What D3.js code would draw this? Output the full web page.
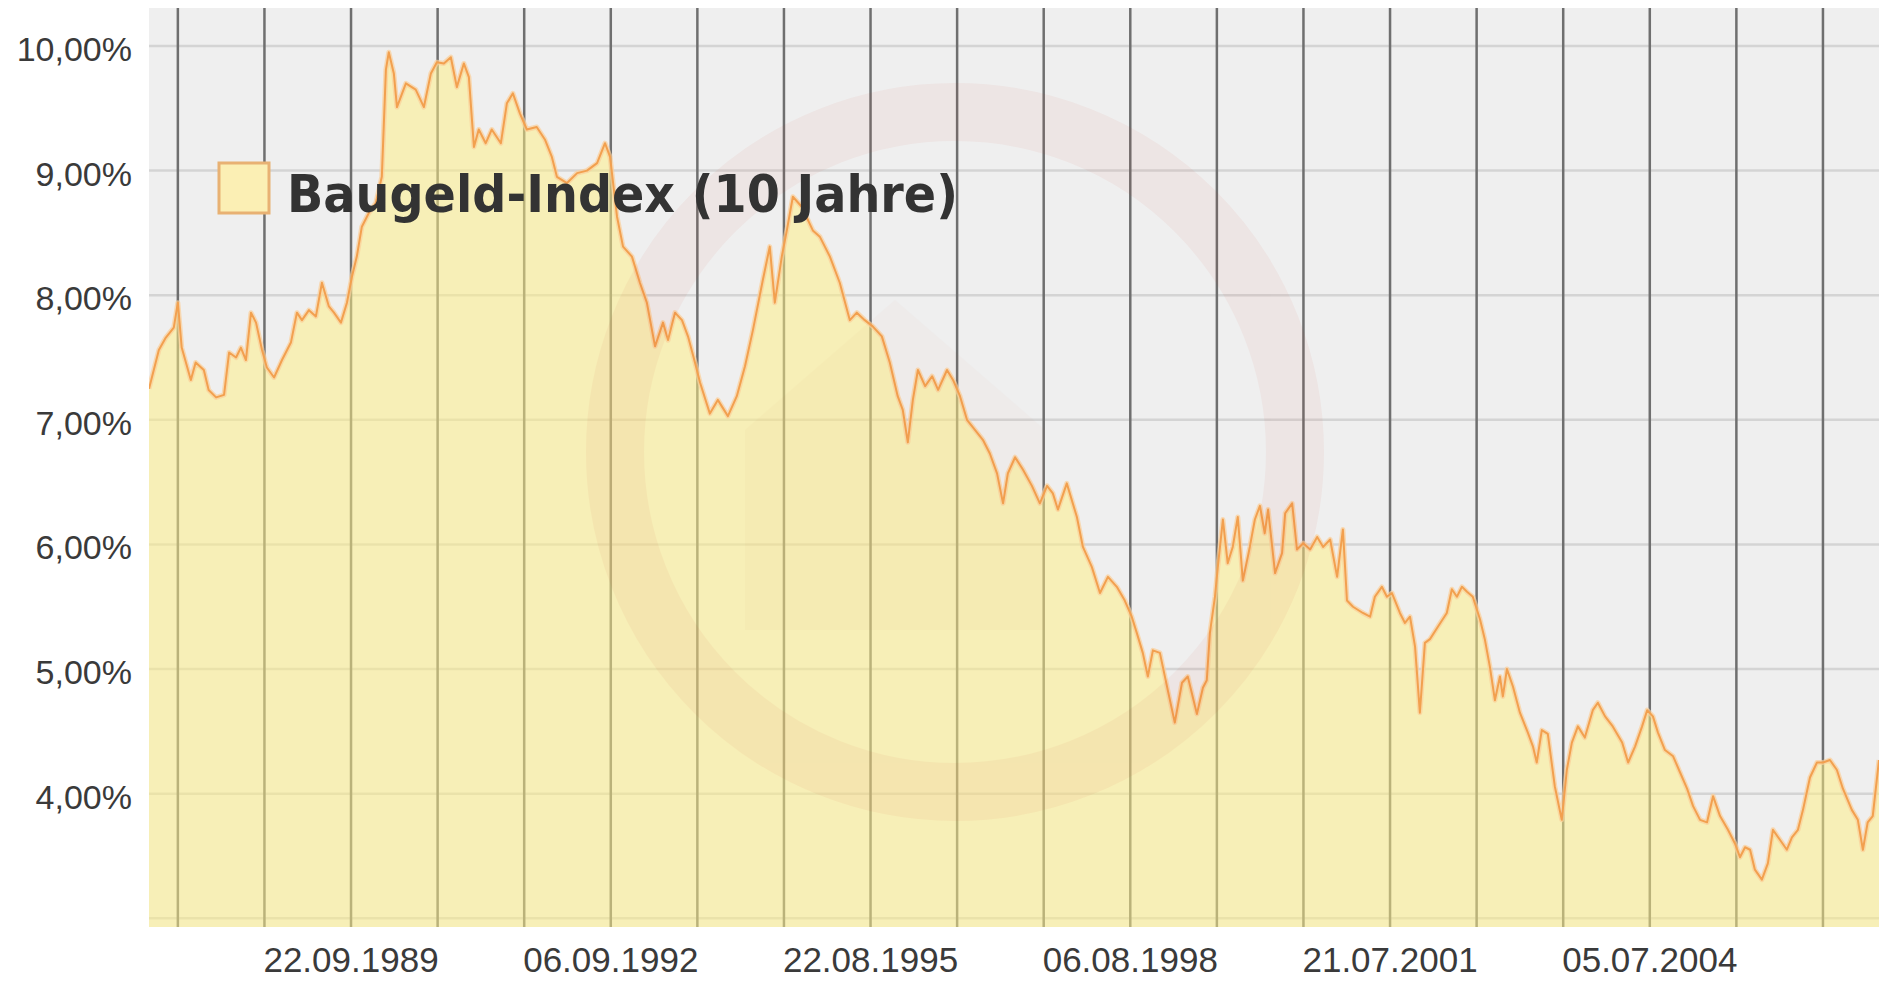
<!DOCTYPE html>
<html><head><meta charset="utf-8">
<script src="https://cdn.jsdelivr.net/npm/d3@7"></script>
<style>html,body{margin:0;padding:0;background:#fff}svg{display:block}</style>
</head><body>
<svg id="chart" width="1879" height="981"></svg>
<script>
// ---- data ----
const seriesName = "Baugeld-Index (10 Jahre)";
const dates = [
"1987-06-05","1987-07-16","1987-08-14","1987-09-16","1987-10-03","1987-10-19","1987-11-26","1987-12-16",
"1988-01-19","1988-02-08","1988-03-10","1988-04-12","1988-05-03","1988-06-01","1988-06-21","1988-07-12",
"1988-08-02","1988-08-23","1988-09-17","1988-10-07","1988-11-06","1988-12-09",
"1989-01-15","1989-02-09","1989-03-02","1989-03-31","1989-04-29","1989-05-24","1989-06-22","1989-07-13",
"1989-08-11","1989-09-05","1989-09-26","1989-10-16","1989-11-06","1989-12-05",
"1990-01-03","1990-01-28","1990-02-14","1990-02-26","1990-03-19","1990-04-01","1990-05-08","1990-06-18",
"1990-07-22","1990-08-20","1990-09-14","1990-10-13","1990-11-11","1990-12-06",
"1991-01-04","1991-01-25","1991-02-15","1991-03-07","1991-04-05","1991-04-30","1991-06-07","1991-07-02",
"1991-07-27","1991-08-25","1991-09-23","1991-11-03","1991-12-07",
"1992-01-05","1992-01-26","1992-03-08","1992-04-19","1992-05-30","1992-07-11","1992-08-13","1992-09-03",
"1992-10-02","1992-10-27","1992-12-03",
"1993-01-05","1993-02-03","1993-03-09","1993-04-11","1993-05-02","1993-05-31","1993-06-29","1993-07-24",
"1993-08-22","1993-09-12","1993-10-23","1993-11-25",
"1994-01-06","1994-02-12","1994-03-18","1994-04-20","1994-05-31","1994-06-29","1994-07-20","1994-08-18",
"1994-09-08","1994-10-03","1994-11-09","1994-12-25",
"1995-01-23","1995-03-06","1995-04-16","1995-05-28","1995-06-26","1995-07-29","1995-08-31","1995-10-08",
"1995-11-10","1995-12-13",
"1996-01-03","1996-01-24","1996-02-14","1996-03-06","1996-04-05","1996-05-04","1996-05-29","1996-07-05",
"1996-07-30","1996-08-28","1996-09-26","1996-10-29","1996-12-01","1996-12-30",
"1997-01-29","1997-02-23","1997-03-15","1997-04-14","1997-05-17","1997-06-23","1997-07-26","1997-08-25",
"1997-09-18","1997-10-09","1997-11-15","1997-12-27",
"1998-01-21","1998-02-27","1998-04-02","1998-05-05","1998-06-11","1998-07-14","1998-08-12","1998-09-02",
"1998-09-27","1998-10-18","1998-11-08","1998-12-07",
"1999-01-09","1999-02-07","1999-03-09","1999-04-02","1999-05-10","1999-06-04","1999-06-20","1999-07-03",
"1999-07-24","1999-08-05","1999-08-26","1999-09-15","1999-10-06","1999-10-27","1999-11-17","1999-12-16",
"2000-01-06","2000-01-27","2000-02-16","2000-03-01","2000-03-30","2000-04-28","2000-05-11","2000-06-09",
"2000-06-29","2000-07-25","2000-08-23","2000-09-21","2000-10-16","2000-11-14","2000-12-13",
"2001-01-06","2001-01-23","2001-02-17","2001-03-30","2001-04-29","2001-05-19","2001-06-17","2001-07-08",
"2001-07-29","2001-08-31","2001-09-21","2001-10-12","2001-11-02","2001-11-22","2001-12-13",
"2002-01-03","2002-02-05","2002-03-14","2002-04-04","2002-04-25","2002-05-16","2002-06-06","2002-06-30",
"2002-07-30","2002-08-19","2002-09-09","2002-09-30","2002-10-21","2002-11-02","2002-11-19","2002-12-14",
"2003-01-12","2003-02-14","2003-03-07","2003-03-23","2003-04-13","2003-05-08","2003-06-06","2003-07-05",
"2003-07-26","2003-08-16","2003-09-10","2003-10-09","2003-11-11","2003-12-02",
"2004-01-01","2004-02-02","2004-03-12","2004-04-06","2004-05-05","2004-06-03","2004-06-24","2004-07-18",
"2004-08-08","2004-09-06","2004-10-10","2004-11-08","2004-12-07",
"2005-01-01","2005-01-30","2005-02-28","2005-03-25","2005-04-23","2005-05-26","2005-06-24","2005-07-15",
"2005-08-05","2005-08-26","2005-09-15","2005-10-14","2005-11-08","2005-11-29","2005-12-28",
"2006-01-26","2006-02-16","2006-03-13","2006-04-03","2006-05-02","2006-05-31","2006-06-25","2006-07-24",
"2006-08-22","2006-09-16","2006-10-23","2006-11-17","2006-12-08","2006-12-28",
"2007-01-18","2007-02-13"
];
const rates = [
7.25,7.56,7.66,7.74,7.94,7.58,7.32,7.46,
7.40,7.24,7.18,7.20,7.54,7.50,7.58,7.48,
7.86,7.78,7.56,7.42,7.34,7.48,
7.62,7.86,7.80,7.88,7.83,8.10,7.91,7.86,
7.78,7.94,8.15,8.31,8.55,8.66,
8.74,8.95,9.81,9.95,9.78,9.51,9.70,9.65,
9.51,9.78,9.87,9.86,9.91,9.67,
9.86,9.75,9.19,9.33,9.22,9.33,9.22,9.54,
9.62,9.46,9.33,9.35,9.25,
9.11,8.95,8.90,8.98,9.00,9.06,9.22,9.11,
8.63,8.39,8.31,
8.10,7.94,7.59,7.78,7.64,7.86,7.80,7.67,
7.46,7.30,7.05,7.16,
7.03,7.19,7.43,7.72,8.12,8.39,7.94,8.31,
8.52,8.79,8.71,8.52,
8.47,8.31,8.10,7.80,7.86,7.80,7.75,7.67,
7.46,7.19,
7.08,6.82,7.16,7.40,7.27,7.35,7.24,7.40,
7.32,7.19,7.00,6.92,6.84,6.73,
6.57,6.33,6.57,6.70,6.60,6.47,6.33,6.47,
6.41,6.28,6.49,6.22,
5.98,5.82,5.61,5.74,5.66,5.55,5.42,5.29,
5.13,4.94,5.15,5.13,
4.83,4.57,4.89,4.94,4.64,4.85,4.91,5.29,
5.58,5.82,6.20,5.85,5.98,6.22,5.71,5.98,
6.20,6.31,6.09,6.28,5.77,5.93,6.25,6.33,
5.96,6.01,5.96,6.06,5.98,6.04,5.74,
6.12,5.55,5.50,5.45,5.42,5.58,5.66,5.58,
5.61,5.45,5.37,5.42,5.18,4.65,5.21,
5.24,5.34,5.45,5.64,5.58,5.66,5.62,5.58,
5.40,5.24,5.02,4.75,4.94,4.78,5.00,4.86,
4.65,4.49,4.38,4.25,4.51,4.48,4.06,3.79,
4.19,4.41,4.54,4.45,4.67,4.73,
4.62,4.54,4.41,4.25,4.38,4.54,4.67,4.62,
4.49,4.35,4.30,4.17,4.04,
3.90,3.79,3.77,3.98,3.82,3.71,3.60,3.49,
3.57,3.55,3.39,3.31,3.44,3.71,3.63,
3.55,3.65,3.71,3.87,4.13,4.25,4.25,4.27,
4.19,4.04,3.87,3.79,3.55,3.77,
3.82,4.27
];
// vertical grid lines (one every 360 days) and the dates that carry a label
const gridDates = [
"1987-10-03","1988-09-27","1989-09-22","1990-09-17","1991-09-12","1992-09-06","1993-09-01",
"1994-08-27","1995-08-22","1996-08-16","1997-08-11","1998-08-06","1999-08-01","2000-07-26",
"2001-07-21","2002-07-16","2003-07-11","2004-07-05","2005-06-30","2006-06-25"
];
const xTickLabels = ["22.09.1989","06.09.1992","22.08.1995","06.08.1998","21.07.2001","05.07.2004"];
const yGridValues = [3,4,5,6,7,8,9,10];
const yTickLabels = ["4,00%","5,00%","6,00%","7,00%","8,00%","9,00%","10,00%"];
const yTickValues = [4,5,6,7,8,9,10];
const xDomain = ["1987-06-05","2007-02-13"];
const yDomain = [2.93, 10.305];

// ---- layout ----
const L = 149, R = 1879, T = 8, B = 927;
const parse = d3.utcParse("%Y-%m-%d");
const parseLbl = d3.utcParse("%d.%m.%Y");
const data = dates.map((d,i)=>({date:parse(d), v:rates[i]}));

const x = d3.scaleUtc().domain(xDomain.map(parse)).range([L,R]);
const y = d3.scaleLinear().domain(yDomain).range([B,T]);

const svg = d3.select("#chart");
const defs = svg.append("defs");
defs.append("clipPath").attr("id","plotclip").append("rect")
  .attr("x",L).attr("y",T).attr("width",R-L).attr("height",B-T);

// plot background
svg.append("rect").attr("x",L).attr("y",T).attr("width",R-L).attr("height",B-T).attr("fill","#efefef");

const plot = svg.append("g").attr("clip-path","url(#plotclip)");

// horizontal grid
plot.append("g").selectAll("line").data(yGridValues).join("line")
  .attr("x1",L).attr("x2",R)
  .attr("y1",d=>y(d)).attr("y2",d=>y(d))
  .attr("stroke","#d4d4d4").attr("stroke-width",2.5);

// vertical grid
plot.append("g").selectAll("line").data(gridDates.map(parse)).join("line")
  .attr("x1",d=>x(d)).attr("x2",d=>x(d))
  .attr("y1",T).attr("y2",B)
  .attr("stroke","#6f6f6f").attr("stroke-width",2.5);

// area
const area = d3.area().x(d=>x(d.date)).y0(B).y1(d=>y(d.v)).curve(d3.curveLinear);
plot.append("path").datum(data).attr("d",area)
  .attr("fill","#ffef85").attr("fill-opacity",0.52);

// line with soft halo
const line = d3.line().x(d=>x(d.date)).y(d=>y(d.v)).curve(d3.curveLinear);
plot.append("path").datum(data).attr("d",line)
  .attr("fill","none").attr("stroke","#fbcf98").attr("stroke-width",5).attr("stroke-opacity",0.7)
  .attr("stroke-linejoin","round");
plot.append("path").datum(data).attr("d",line)
  .attr("fill","none").attr("stroke","#f2a04f").attr("stroke-width",2)
  .attr("stroke-linejoin","round");

// faint watermark ring
const wm = plot.append("g").attr("opacity",0.05);
wm.append("circle").attr("cx",955).attr("cy",452).attr("r",340)
  .attr("fill","none").attr("stroke","#d23c28").attr("stroke-width",58);
wm.append("path")
  .attr("d","M745,630 L745,430 L895,300 L1045,430 L1045,630 Z")
  .attr("fill","#d2643c").attr("opacity",0.5);

// y labels
svg.append("g").selectAll("text").data(yTickValues).join("text")
  .attr("x",132).attr("y",d=>y(d)+3)
  .attr("text-anchor","end").attr("dominant-baseline","central")
  .attr("font-family","'Liberation Sans', Arial, sans-serif").attr("font-size",34)
  .attr("fill","#3a3a3a")
  .text((d,i)=>yTickLabels[i]);

// x labels
svg.append("g").selectAll("text").data(xTickLabels).join("text")
  .attr("x",d=>x(parseLbl(d))).attr("y",972)
  .attr("text-anchor","middle")
  .attr("font-family","'Liberation Sans', Arial, sans-serif").attr("font-size",35)
  .attr("fill","#3a3a3a")
  .text(d=>d);

// legend
const lg = svg.append("g");
lg.append("rect").attr("x",219).attr("y",163).attr("width",50).attr("height",50)
  .attr("fill","#fbefb4").attr("stroke","#e8b173").attr("stroke-width",3);
lg.append("text").attr("x",287).attr("y",212)
  .attr("font-family","'DejaVu Sans', Verdana, sans-serif").attr("font-weight","bold")
  .attr("font-size",51).attr("fill","#333")
  .attr("textLength",671).attr("lengthAdjust","spacingAndGlyphs")
  .text(seriesName);
</script>
</body></html>
